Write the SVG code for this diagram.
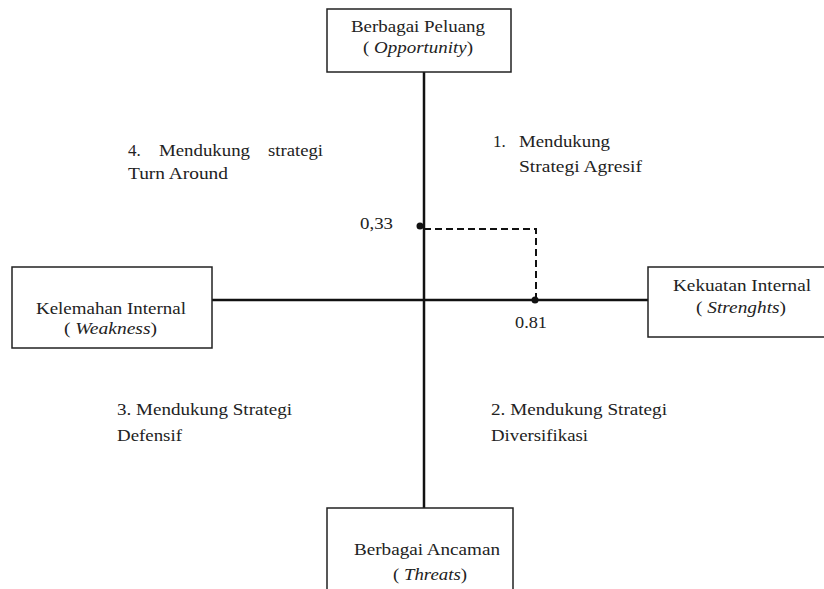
<svg xmlns="http://www.w3.org/2000/svg" width="824" height="589" viewBox="0 0 824 589">
<style>
text{font-family:'Liberation Serif','Times New Roman',serif;font-size:17px;fill:#222}
.box{fill:#fff;stroke:#222;stroke-width:1.5}
.axis{stroke:#111;stroke-width:2.5;fill:none}
.dash{stroke:#111;stroke-width:2;stroke-dasharray:7,4;fill:none}
</style>
<rect width="824" height="589" fill="#fff"/>
<g id="connectors">
<line class="axis" x1="424" y1="72" x2="424" y2="508"/>
<line class="axis" x1="212" y1="300" x2="648" y2="300"/>
<polyline class="dash" points="424,229 536,229 536,300"/>
<circle cx="420" cy="226" r="3.5" fill="#111"/>
<circle cx="535" cy="300" r="3.5" fill="#111"/>
<text x="360" y="229" textLength="33" lengthAdjust="spacingAndGlyphs">0,33</text>
<text x="515" y="328" textLength="32" lengthAdjust="spacingAndGlyphs">0.81</text>
</g>
<g id="opportunity">
<rect class="box" x="327" y="9" width="184" height="63"/>
<text x="351" y="32" textLength="134" lengthAdjust="spacingAndGlyphs">Berbagai Peluang</text>
<text x="363" y="53" textLength="110" lengthAdjust="spacingAndGlyphs">( <tspan font-style="italic">Opportunity</tspan>)</text>
</g>
<g id="weakness">
<rect class="box" x="12" y="267" width="200" height="81"/>
<text x="36" y="314" textLength="150" lengthAdjust="spacingAndGlyphs">Kelemahan Internal</text>
<text x="64" y="334" textLength="93" lengthAdjust="spacingAndGlyphs">( <tspan font-style="italic">Weakness</tspan>)</text>
</g>
<g id="strengths">
<rect class="box" x="648" y="267" width="190" height="70"/>
<text x="673" y="291" textLength="138" lengthAdjust="spacingAndGlyphs">Kekuatan Internal</text>
<text x="696" y="313" textLength="90" lengthAdjust="spacingAndGlyphs">( <tspan font-style="italic">Strenghts</tspan>)</text>
</g>
<g id="threats">
<rect class="box" x="327" y="508" width="186" height="90"/>
<text x="354" y="555" textLength="146" lengthAdjust="spacingAndGlyphs">Berbagai Ancaman</text>
<text x="393" y="580" textLength="74" lengthAdjust="spacingAndGlyphs">( <tspan font-style="italic">Threats</tspan>)</text>
</g>
<g id="q4">
<text x="128" y="156">4.</text>
<text x="159" y="156" textLength="91" lengthAdjust="spacingAndGlyphs">Mendukung</text>
<text x="268" y="156" textLength="55" lengthAdjust="spacingAndGlyphs">strategi</text>
<text x="128" y="179" textLength="100" lengthAdjust="spacingAndGlyphs">Turn Around</text>
</g>
<g id="q1">
<text x="493" y="147">1.</text>
<text x="519" y="147" textLength="91" lengthAdjust="spacingAndGlyphs">Mendukung</text>
<text x="519" y="172" textLength="123" lengthAdjust="spacingAndGlyphs">Strategi Agresif</text>
</g>
<g id="q3">
<text x="117" y="415" textLength="175" lengthAdjust="spacingAndGlyphs">3. Mendukung Strategi</text>
<text x="117" y="441" textLength="65" lengthAdjust="spacingAndGlyphs">Defensif</text>
</g>
<g id="q2">
<text x="491" y="415" textLength="176" lengthAdjust="spacingAndGlyphs">2. Mendukung Strategi</text>
<text x="491" y="441" textLength="97" lengthAdjust="spacingAndGlyphs">Diversifikasi</text>
</g>
</svg>
